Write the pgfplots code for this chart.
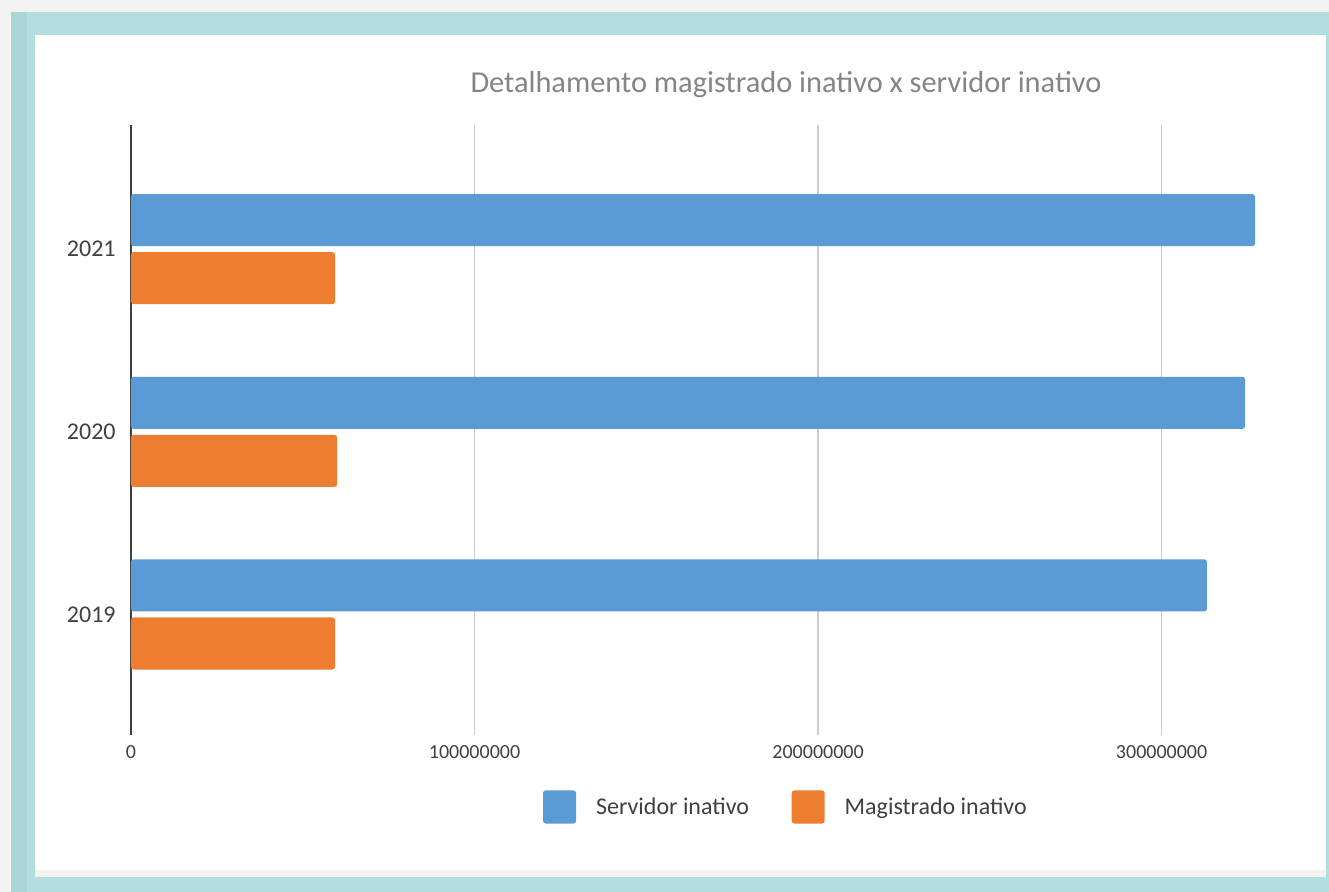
\documentclass[border=0pt]{standalone}
\usepackage{fontspec}
\setmainfont{Carlito}
\usepackage{pgfplots}
\pgfplotsset{compat=1.18}
\definecolor{bgray}{HTML}{F3F3F3}
\definecolor{teal1}{HTML}{B3DEDD}
\definecolor{teal2}{HTML}{A9D5D4}
\definecolor{sblue}{HTML}{5B9BD5}
\definecolor{sorange}{HTML}{ED7D31}
\definecolor{txtgray}{HTML}{404040}
\definecolor{titlegray}{HTML}{858585}
\begin{document}
\begin{tikzpicture}[x=0.75pt,y=0.75pt]
\fill[bgray] (0,0) rectangle (1329,892);
\fill[teal1] (11,0) rectangle (1329,880);
\fill[teal2] (11,0) rectangle (27,880);
\fill[white] (35,22) rectangle (1326,857);
\fill[bgray] (35,15) rectangle (1326,22);
\node[text=titlegray, font=\fontsize{22.8}{26}\selectfont] at (786,807) {Detalhamento magistrado inativo x servidor inativo};
\begin{axis}[
  at={(98.25pt,117.75pt)}, anchor=south west,
  width=876pt, height=457.5pt, scale only axis,
  xmin=0, xmax=340000000, ymin=-0.66, ymax=2.68,
  axis lines*=left,
  x axis line style={draw=none},
  y axis line style={draw=black!75, line width=1.5pt},
  major tick length=0,
  xtick={0,100000000,200000000,300000000},
  xticklabels={0,100000000,200000000,300000000},
  scaled x ticks=false,
  ytick={0,1,2}, yticklabels={2019,2020,2021},
  xmajorgrids, grid style={black!20, line width=0.9pt},
  /pgf/number format/assume math mode=true,
  xticklabel style={font=\fontsize{15}{17}\selectfont, text=txtgray, yshift=-4pt},
  yticklabel style={font=\fontsize{18}{20}\selectfont, text=txtgray, xshift=-8pt},
  legend columns=2,
  legend style={draw=none, fill=none, at={(0.561,-0.118)}, anchor=center,
    font=\fontsize{18}{20}\selectfont, text=txtgray,
    /tikz/every odd column/.append style={column sep=13pt},
    /tikz/every even column/.append style={column sep=30pt}},
  legend image code/.code={\fill[#1,draw=none] (0pt,-12.4pt) rectangle (24.75pt,12.4pt);},
]
\addplot[xbar, bar width=0.285, bar shift=0.159, fill=sblue, draw=none, rounded corners=2pt]
  coordinates {(313200000,0) (324300000,1) (327200000,2)};
\addlegendentry{Servidor inativo}
\addplot[xbar, bar width=0.285, bar shift=-0.159, fill=sorange, draw=none, rounded corners=2pt]
  coordinates {(59400000,0) (60000000,1) (59400000,2)};
\addlegendentry{Magistrado inativo}
\end{axis}
\end{tikzpicture}
\end{document}
